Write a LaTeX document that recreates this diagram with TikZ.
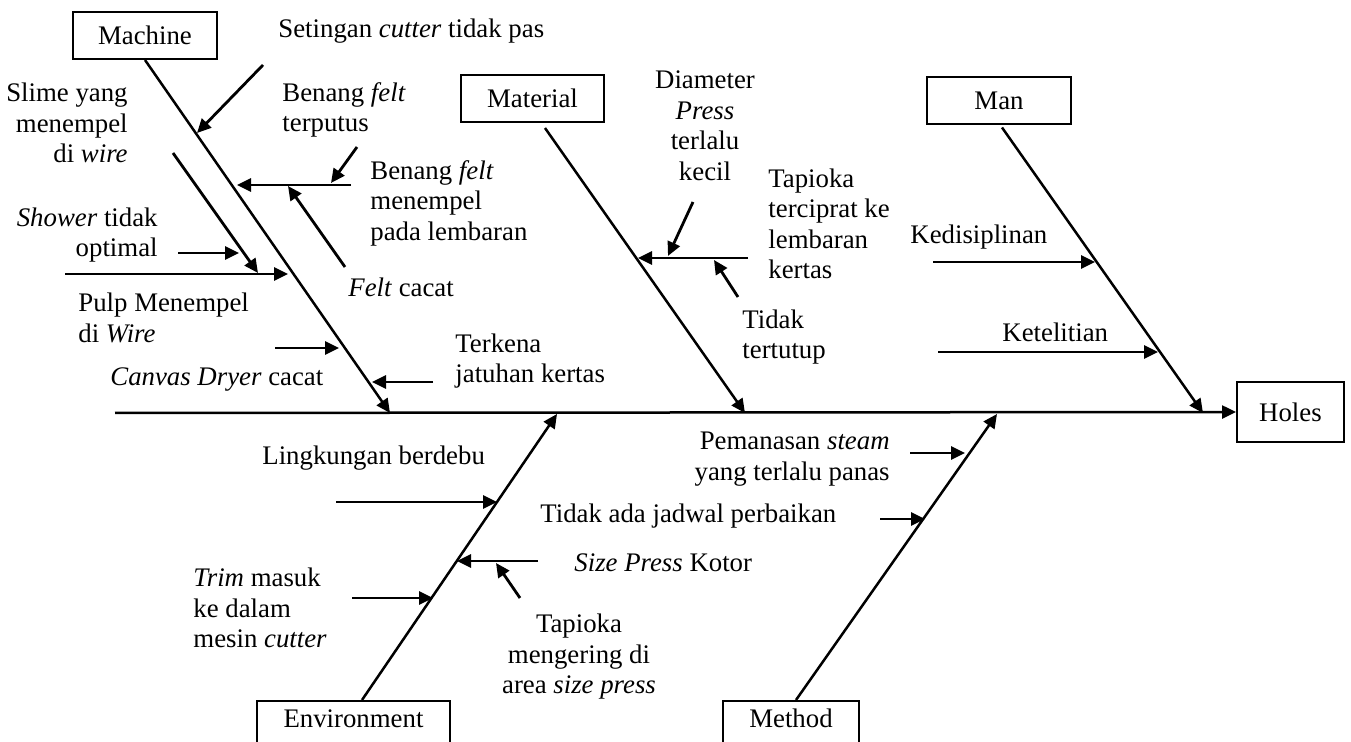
\documentclass[tikz,border=0pt]{standalone}
\usepackage{fontspec}
\setmainfont{Liberation Serif}
\usetikzlibrary{arrows.meta}

\begin{document}
\begin{tikzpicture}[x=0.5pt,y=-0.5pt,line cap=butt,
    font=\fontsize{13.4}{15.25}\selectfont,
    catbox/.style={draw,line width=1pt,inner sep=0pt,minimum height=23.5pt},
    bone/.style={line width=1.25pt,-{Triangle[length=7pt,width=6.5pt]}},
    twig/.style={line width=1.4pt,-{Triangle[length=7pt,width=6.5pt]}},
    txt/.style={inner sep=0pt}]
  \useasboundingbox (0,0) rectangle (1351,742);
  \clip (0,0) rectangle (1351,742);
  % categories and effect
  \node[catbox,minimum width=72pt] (machine) at (145,35.5) {Machine};
  \node[catbox,minimum width=71.5pt] (material) at (532.5,98.5) {Material};
  \node[catbox,minimum width=72pt] (man) at (999,101) {Man};
  \node[catbox,minimum width=53.5pt,minimum height=30pt] (holes) at (1290.5,412) {Holes};
  \node[catbox,anchor=north,minimum width=96.5pt,inner ysep=4.5pt,text height=9pt,text depth=16pt] (environment) at (353.5,700) {Environment};
  \node[catbox,anchor=north,minimum width=68pt,inner ysep=4.5pt,text height=9pt,text depth=16pt] (method) at (791,700) {Method};
  % spine and bones
  \coordinate (tail) at (115,413);
  \coordinate (machinetip) at (390,413);
  \coordinate (materialtip) at (745,413);
  \coordinate (mantip) at (1203,413);
  \coordinate (environmenttip) at (557,414);
  \coordinate (methodtip) at (997,414);
  \draw[bone] (tail) -- (holes.west);
  \draw[bone] (machine.south) -- (machinetip);
  \draw[bone] ([xshift=6.25pt,yshift=-2.5pt]material.south) -- (materialtip);
  \draw[bone] ([xshift=1.5pt,yshift=-1pt]man.south) -- (mantip);
  \draw[bone] ([xshift=4.25pt]environment.north) -- (environmenttip);
  \draw[bone] ([xshift=2.5pt]method.north) -- (methodtip);
  % sub causes
  \foreach \i/\xa/\ya/\xb/\yb in {1/263/65/197/133,2/357/147/331/183,3/351/185/237/185,
      4/345/267/288/186,5/173/153/258/273,6/178/253/239/253,7/65/274/288/274,
      8/275/348/339/348,9/433/382/372/382,10/748/258/638/258,11/693/202/668/256,
      12/738/297/714/260,13/933/262/1095/262,14/938/352/1158/352,15/336/502/497/502,
      16/538/561/457/561,17/520/598/496/563,18/352/598/433/598,19/910/453/965/453,
      20/880/519/925/519}{
    \coordinate (t\i-s) at (\xa,\ya);
    \coordinate (t\i-e) at (\xb,\yb);
    \draw[twig] (t\i-s) -- (t\i-e);
  }
  % labels
  \node[txt,anchor=west] (setingan) at (278,31) {Setingan \textit{cutter} tidak pas};
  \node[txt,anchor=east,align=right] (slime) at (128,123) {Slime yang\\menempel\\di \textit{wire}};
  \node[txt,anchor=east,align=right] (shower) at (158,235) {\textit{Shower} tidak\\optimal};
  \node[txt,anchor=west,align=left] (putus) at (282,110) {Benang \textit{felt}\\terputus};
  \node[txt,anchor=west,align=left] (nempel) at (370,203) {Benang \textit{felt}\\menempel\\pada lembaran};
  \node[txt,anchor=west] (feltcacat) at (348,287) {\textit{Felt} cacat};
  \node[txt,anchor=west,align=left] (pulp) at (78,318) {Pulp Menempel\\di \textit{Wire}};
  \node[txt,anchor=west] (canvas) at (110,380) {\textit{Canvas Dryer} cacat};
  \node[txt,anchor=west,align=left] (terkena) at (455,361) {Terkena\\jatuhan kertas};
  \node[txt,align=center] (diameter) at (705,126) {Diameter\\\textit{Press}\\terlalu\\kecil};
  \node[txt,anchor=west,align=left] (terciprat) at (768,224) {Tapioka\\terciprat ke\\lembaran\\kertas};
  \node[txt,anchor=west,align=left] (tertutup) at (742,337) {Tidak\\tertutup};
  \node[txt,anchor=west] (disiplin) at (910,237) {Kedisiplinan};
  \node[txt,anchor=west] (teliti) at (1002,332) {Ketelitian};
  \node[txt,anchor=west] (debu) at (262,458) {Lingkungan berdebu};
  \node[txt,anchor=west,align=left] (trim) at (193,608) {\textit{Trim} masuk\\ke dalam\\mesin \textit{cutter}};
  \node[txt,anchor=west] (kotor) at (574,563) {\textit{Size Press} Kotor};
  \node[txt,align=center] (kering) at (579,657) {Tapioka\\mengering di\\area \textit{size press}};
  \node[txt,anchor=west] (jadwal) at (540,516) {Tidak ada jadwal perbaikan};
  \node[txt,anchor=east,align=right] (steam) at (890,459) {Pemanasan \textit{steam}\\yang terlalu panas};
\end{tikzpicture}
\end{document}
